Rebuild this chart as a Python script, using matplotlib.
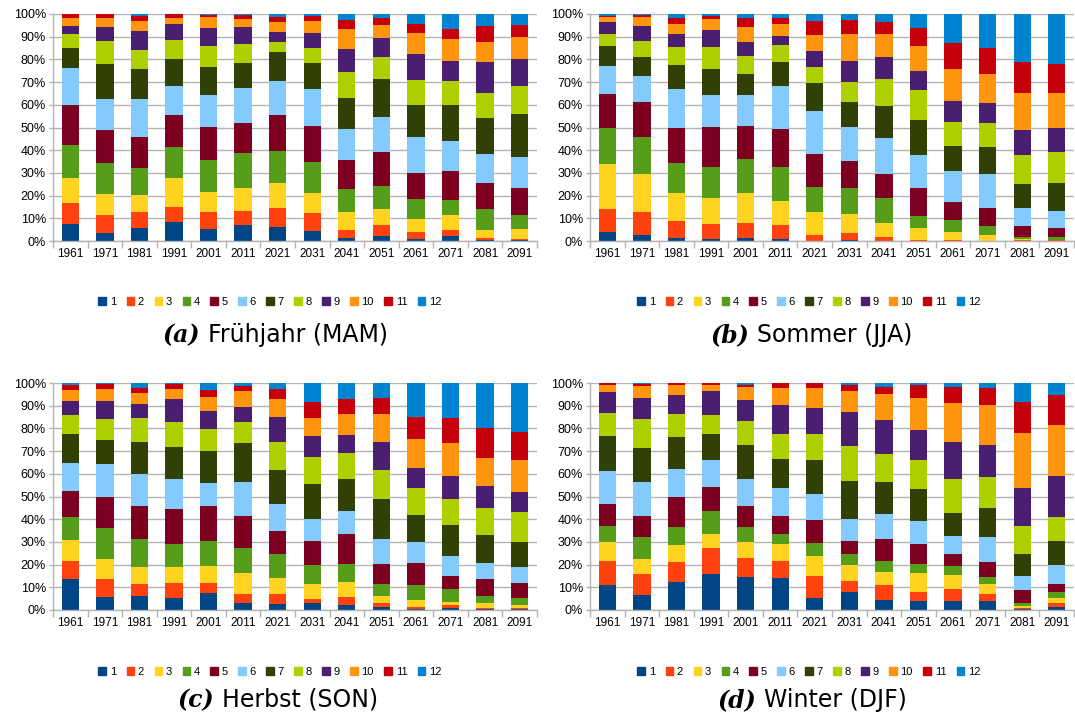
import numpy as np
import matplotlib
matplotlib.use("Agg")
import matplotlib.pyplot as plt
import matplotlib.patches as mpatches
from matplotlib.ticker import FixedLocator

plt.rcParams['font.family'] = ['Liberation Sans', 'DejaVu Sans']

years = ['1961', '1971', '1981', '1991', '2001', '2011', '2021',
         '2031', '2041', '2051', '2061', '2071', '2081', '2091']
months = [str(m) for m in range(1, 13)]
colors = ['#004586', '#ff420e', '#ffd320', '#579d1c', '#7e0021', '#83caff',
          '#314004', '#aecf00', '#4b1f6f', '#ff950e', '#c5000b', '#0084d1']

# cumulative top (%) of month 1..11 for each decade, month 12 fills to 100
mam_tops = [
    [7.4, 16.9, 27.9, 42.2, 60.0, 76.0, 85.0, 91.0, 94.9, 98.2, 100.0],
    [3.5, 11.3, 20.6, 34.3, 48.8, 62.6, 78.1, 88.2, 94.4, 98.4, 100.0],
    [5.9, 12.9, 20.3, 32.1, 45.9, 62.6, 75.6, 84.1, 92.4, 96.9, 99.0],
    [8.5, 15.0, 27.6, 41.3, 55.7, 68.1, 80.3, 88.4, 95.4, 98.2, 100.0],
    [5.3, 12.6, 21.5, 35.6, 50.3, 64.1, 76.6, 85.7, 93.9, 98.7, 99.4],
    [7.1, 13.4, 23.5, 38.7, 52.2, 67.4, 78.5, 86.9, 94.1, 97.8, 99.4],
    [6.2, 14.4, 25.6, 39.7, 55.7, 70.6, 83.2, 87.5, 92.2, 96.5, 98.7],
    [4.4, 12.2, 21.2, 34.7, 50.7, 66.8, 78.2, 85.1, 91.5, 97.1, 99.0],
    [1.5, 4.7, 12.6, 22.8, 35.6, 49.4, 63.2, 74.4, 84.4, 93.4, 97.5],
    [2.1, 7.1, 14.0, 24.3, 39.1, 54.6, 71.2, 81.2, 89.3, 95.0, 98.2],
    [1.0, 4.1, 9.9, 18.7, 29.9, 45.9, 59.7, 70.9, 82.5, 91.8, 95.7],
    [2.1, 5.0, 11.6, 18.1, 30.7, 44.0, 60.1, 70.4, 79.4, 89.1, 93.5],
    [0.4, 1.2, 4.7, 14.0, 25.6, 38.4, 54.4, 65.4, 79.0, 87.8, 94.9],
    [0.4, 1.0, 5.4, 11.3, 23.2, 37.1, 56.0, 68.2, 80.0, 90.0, 95.1],
]
jja_tops = [
    [4.0, 14.0, 33.8, 49.7, 64.6, 76.9, 86.0, 91.0, 96.5, 98.8, 99.1],
    [2.5, 12.6, 29.4, 45.9, 61.2, 72.9, 81.0, 88.2, 94.6, 98.5, 99.7],
    [1.5, 9.0, 21.3, 34.3, 49.9, 66.8, 77.4, 85.6, 91.0, 95.6, 98.4],
    [0.7, 7.4, 19.1, 32.5, 50.1, 64.3, 75.7, 85.3, 92.9, 97.8, 99.3],
    [1.3, 7.9, 21.0, 36.2, 50.6, 64.1, 73.7, 81.5, 87.8, 94.4, 98.4],
    [1.0, 6.9, 17.8, 32.5, 49.4, 68.2, 78.8, 86.5, 90.1, 95.7, 98.1],
    [0.0, 2.5, 12.9, 24.0, 38.4, 57.4, 69.6, 76.8, 83.8, 90.9, 97.1],
    [0.3, 3.7, 11.8, 23.2, 35.4, 50.4, 61.3, 70.0, 79.4, 91.3, 97.4],
    [0.1, 1.6, 7.9, 18.8, 29.4, 45.4, 59.3, 71.3, 81.0, 91.3, 96.3],
    [0.1, 0.6, 5.6, 10.9, 23.2, 38.1, 53.1, 66.6, 75.1, 86.0, 93.8],
    [0.1, 0.6, 4.0, 9.1, 17.4, 30.9, 41.8, 52.6, 61.5, 75.7, 87.2],
    [0.1, 0.2, 2.5, 6.8, 14.4, 29.4, 41.5, 51.9, 61.0, 73.4, 85.1],
    [0.1, 0.4, 0.7, 1.9, 6.8, 14.7, 24.9, 37.8, 49.1, 65.4, 78.7],
    [0.1, 0.3, 0.6, 1.6, 5.6, 13.4, 25.7, 39.1, 49.9, 65.4, 78.1],
]
son_tops = [
    [13.8, 21.7, 30.8, 41.1, 52.6, 64.7, 77.4, 86.1, 92.2, 96.9, 99.1],
    [5.9, 13.6, 22.6, 36.2, 49.6, 64.1, 75.1, 84.0, 92.2, 97.5, 99.6],
    [6.3, 11.6, 18.9, 31.4, 45.9, 59.7, 73.9, 84.5, 90.8, 95.6, 97.7],
    [5.3, 12.0, 18.8, 28.9, 44.4, 57.9, 71.8, 82.7, 92.8, 97.5, 99.4],
    [7.5, 11.9, 19.5, 30.6, 45.7, 55.9, 70.2, 79.9, 87.7, 93.7, 97.1],
    [3.1, 7.2, 16.1, 27.1, 41.6, 56.2, 73.5, 82.7, 89.6, 96.5, 98.5],
    [2.8, 7.0, 13.9, 24.5, 34.9, 46.9, 61.6, 73.8, 85.0, 93.0, 97.5],
    [2.9, 4.7, 11.4, 19.9, 30.2, 40.2, 55.4, 67.4, 76.5, 84.6, 91.6],
    [2.3, 5.9, 12.3, 20.1, 33.4, 43.4, 57.5, 69.1, 77.1, 86.2, 93.0],
    [1.5, 2.9, 6.0, 11.4, 20.2, 31.4, 48.8, 61.7, 73.9, 86.2, 93.5],
    [0.3, 1.5, 4.4, 11.0, 20.7, 29.9, 41.9, 53.8, 62.6, 75.4, 85.0],
    [1.0, 2.2, 3.7, 9.1, 15.0, 24.0, 37.5, 48.7, 59.1, 73.6, 84.6],
    [0.3, 0.7, 2.9, 6.3, 13.8, 20.8, 33.1, 45.0, 54.5, 66.9, 80.1],
    [0.3, 1.0, 2.1, 5.4, 11.7, 19.1, 30.1, 43.1, 52.1, 66.0, 78.4],
]
djf_tops = [
    [10.9, 21.6, 30.1, 37.2, 46.5, 61.4, 76.8, 86.9, 96.0, 98.9, 99.9],
    [6.6, 15.8, 22.4, 32.1, 41.6, 56.2, 71.3, 84.0, 93.4, 98.5, 99.6],
    [12.2, 21.3, 28.6, 36.7, 49.9, 62.3, 76.0, 86.5, 94.9, 99.3, 100.0],
    [16.0, 27.3, 33.7, 43.4, 54.3, 66.1, 77.4, 85.9, 96.5, 99.3, 99.9],
    [14.5, 23.0, 30.1, 36.5, 45.7, 57.9, 72.7, 83.4, 92.5, 98.2, 99.1],
    [14.2, 21.6, 29.2, 33.6, 41.3, 53.8, 66.7, 77.4, 90.3, 97.7, 100.0],
    [5.4, 15.0, 23.8, 29.5, 39.7, 50.9, 66.1, 77.6, 88.9, 97.7, 100.0],
    [7.9, 12.9, 19.9, 24.6, 30.4, 40.3, 56.7, 72.1, 87.1, 96.6, 99.3],
    [4.5, 11.0, 16.6, 21.4, 31.1, 42.4, 56.6, 68.6, 83.9, 95.0, 98.2],
    [3.8, 8.1, 16.4, 20.1, 29.2, 39.1, 53.4, 66.1, 79.3, 93.5, 99.3],
    [4.1, 9.2, 15.5, 19.4, 24.5, 32.4, 42.8, 57.5, 73.8, 91.2, 98.1],
    [4.1, 6.9, 11.4, 14.7, 21.1, 32.3, 45.0, 58.8, 72.6, 90.2, 97.7],
    [0.3, 0.9, 1.9, 3.1, 8.8, 15.1, 24.8, 37.1, 53.7, 78.0, 91.6],
    [1.5, 3.1, 5.3, 7.8, 11.6, 19.9, 30.5, 40.8, 59.1, 81.7, 94.7],
]

panel_letters = ['(a)', '(b)', '(c)', '(d)']
panel_names = ['Frühjahr (MAM)', 'Sommer (JJA)', 'Herbst (SON)', 'Winter (DJF)']

W, H = 1075, 718
fig = plt.figure(figsize=(W / 100, H / 100), dpi=100)

# pixel layout of each panel: axes rect, legend centre, caption split/baseline
ax_px = [(53, 14), (590, 14), (53, 383), (590, 383)]
leg_px = [(270, 302), (809, 302), (270, 672), (809, 672)]
cap_px = [(200, 342), (749, 342), (214, 707), (756, 707)]
ax_w, ax_h = 484, 227

grid_col = '#b3b3b3'
x = np.arange(len(years))

for i, data in enumerate([mam_tops, jja_tops, son_tops, djf_tops]):
    left, top = ax_px[i]
    ax = fig.add_axes([left / W, 1 - (top + ax_h) / H, ax_w / W, ax_h / H])
    tops = np.array(data)
    bounds = np.hstack([np.zeros((len(years), 1)), tops, np.full((len(years), 1), 100.0)])
    for k in range(12):
        ax.bar(x, bounds[:, k + 1] - bounds[:, k], bottom=bounds[:, k], width=0.5,
               color=colors[k], linewidth=0, zorder=2)

    ax.set_xlim(-0.5, len(years) - 0.5)
    ax.set_ylim(0, 100)
    ax.set_yticks(np.arange(0, 101, 10))
    ax.set_yticklabels([f'{v}%' for v in range(0, 101, 10)], fontsize=9)
    ax.set_xticks(x)
    ax.set_xticklabels(years, fontsize=8.5)
    ax.xaxis.set_minor_locator(FixedLocator(np.arange(-0.5, len(years), 1.0)))
    ax.tick_params(axis='x', which='major', length=0, pad=5)
    ax.tick_params(axis='x', which='minor', length=5, color=grid_col, width=1)
    ax.tick_params(axis='y', length=3, color=grid_col, width=1, pad=2)
    ax.grid(axis='y', color=grid_col, linewidth=1)
    ax.set_axisbelow(True)
    for side in ['top', 'right']:
        ax.spines[side].set_visible(False)
    for side in ['left', 'bottom']:
        ax.spines[side].set_color(grid_col)
        ax.spines[side].set_linewidth(1)

    handles = [mpatches.Patch(color=colors[k], label=months[k]) for k in range(12)]
    lx, ly = leg_px[i]
    fig.legend(handles=handles, loc='center', bbox_to_anchor=(lx / W, 1 - ly / H),
               ncol=12, frameon=False, fontsize=8, handlelength=0.66,
               handleheight=0.66, handletextpad=0.35, columnspacing=0.95,
               borderpad=0, borderaxespad=0)

    cx, cy = cap_px[i]
    fig.text(cx / W, 1 - cy / H, panel_letters[i], ha='right', va='baseline',
             family='DejaVu Serif', style='italic', weight='bold', fontsize=17)
    fig.text((cx + 8) / W, 1 - cy / H, panel_names[i], ha='left', va='baseline',
             family='DejaVu Sans', fontsize=17)

fig.savefig('out.png', dpi=100)
